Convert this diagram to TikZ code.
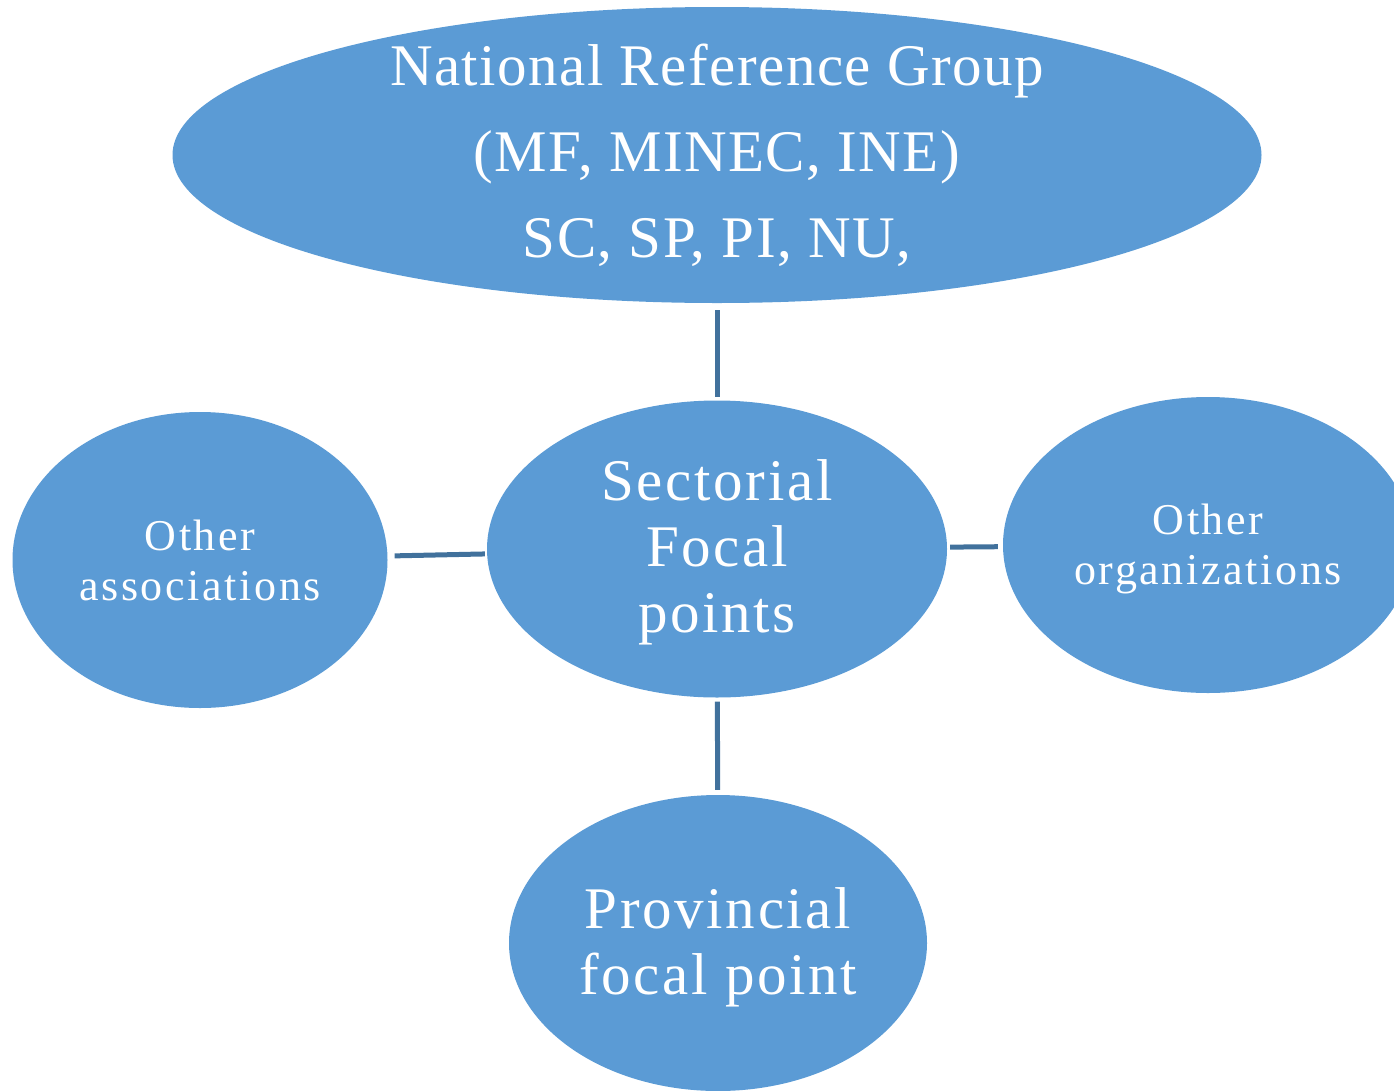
\documentclass[tikz,border=0pt]{standalone}
\usepackage{fontspec}
\setmainfont{Liberation Serif}
\newfontfamily\topf[LetterSpace=2.5]{Liberation Serif}
\newfontfamily\bigf[LetterSpace=4.5]{Liberation Serif}
\newfontfamily\smallf[LetterSpace=6]{Liberation Serif}
\usetikzlibrary{shapes.geometric}
\definecolor{fillb}{HTML}{5B9BD5}
\definecolor{lineb}{HTML}{41719C}
\begin{document}
\begin{tikzpicture}[x=1pt,y=-1pt,
  bubble/.style={ellipse, fill=fillb, draw=none, inner sep=0pt},
  txt/.style={text=white, align=center, inner sep=0pt},
  bigtxt/.style={txt, font=\bigf\fontsize{59}{66}\selectfont},
  smalltxt/.style={txt, font=\smallf\fontsize{44}{50}\selectfont},
  link/.style={draw=lineb, line width=5pt}]
\useasboundingbox (0,0) rectangle (1394,1090);
% ellipses
\node[bubble, minimum width=1089pt, minimum height=296pt] (nrg) at (717,155) {};
\node[bubble, minimum width=460pt, minimum height=297pt] (sfp) at (717,549) {};
\node[bubble, minimum width=375pt, minimum height=296pt] (oa) at (200,560) {};
\node[bubble, minimum width=410pt, minimum height=296pt] (oo) at (1208,545) {};
\node[bubble, minimum width=418pt, minimum height=296pt] (pfp) at (718,943) {};
% texts
\node[txt, font=\topf\fontsize{59}{86}\selectfont] (nrgt) at (nrg) {National Reference Group\\(MF, MINEC, INE)\\SC, SP, PI, NU,};
\node[bigtxt] (sfpt) at ([yshift=-3pt]sfp) {Sectorial\\Focal\\points};
\node[bigtxt] (pfpt) at ([yshift=-4pt]pfp) {Provincial\\focal point};
\node[smalltxt] (oat) at (oa) {Other\\associations};
\node[smalltxt] (oot) at ([yshift=-4pt]oo) {Other\\organizations};
% connectors
\draw[link, shorten <=7pt, shorten >=3pt] (nrg) -- (sfp);
\draw[link, shorten <=4pt, shorten >=5pt] (sfp) -- (pfp);
\draw[link, shorten <=7pt, shorten >=2pt] (oa) -- (sfp);
\draw[link, shorten <=3pt, shorten >=5pt] (sfp) -- (oo);
\end{tikzpicture}
\end{document}
